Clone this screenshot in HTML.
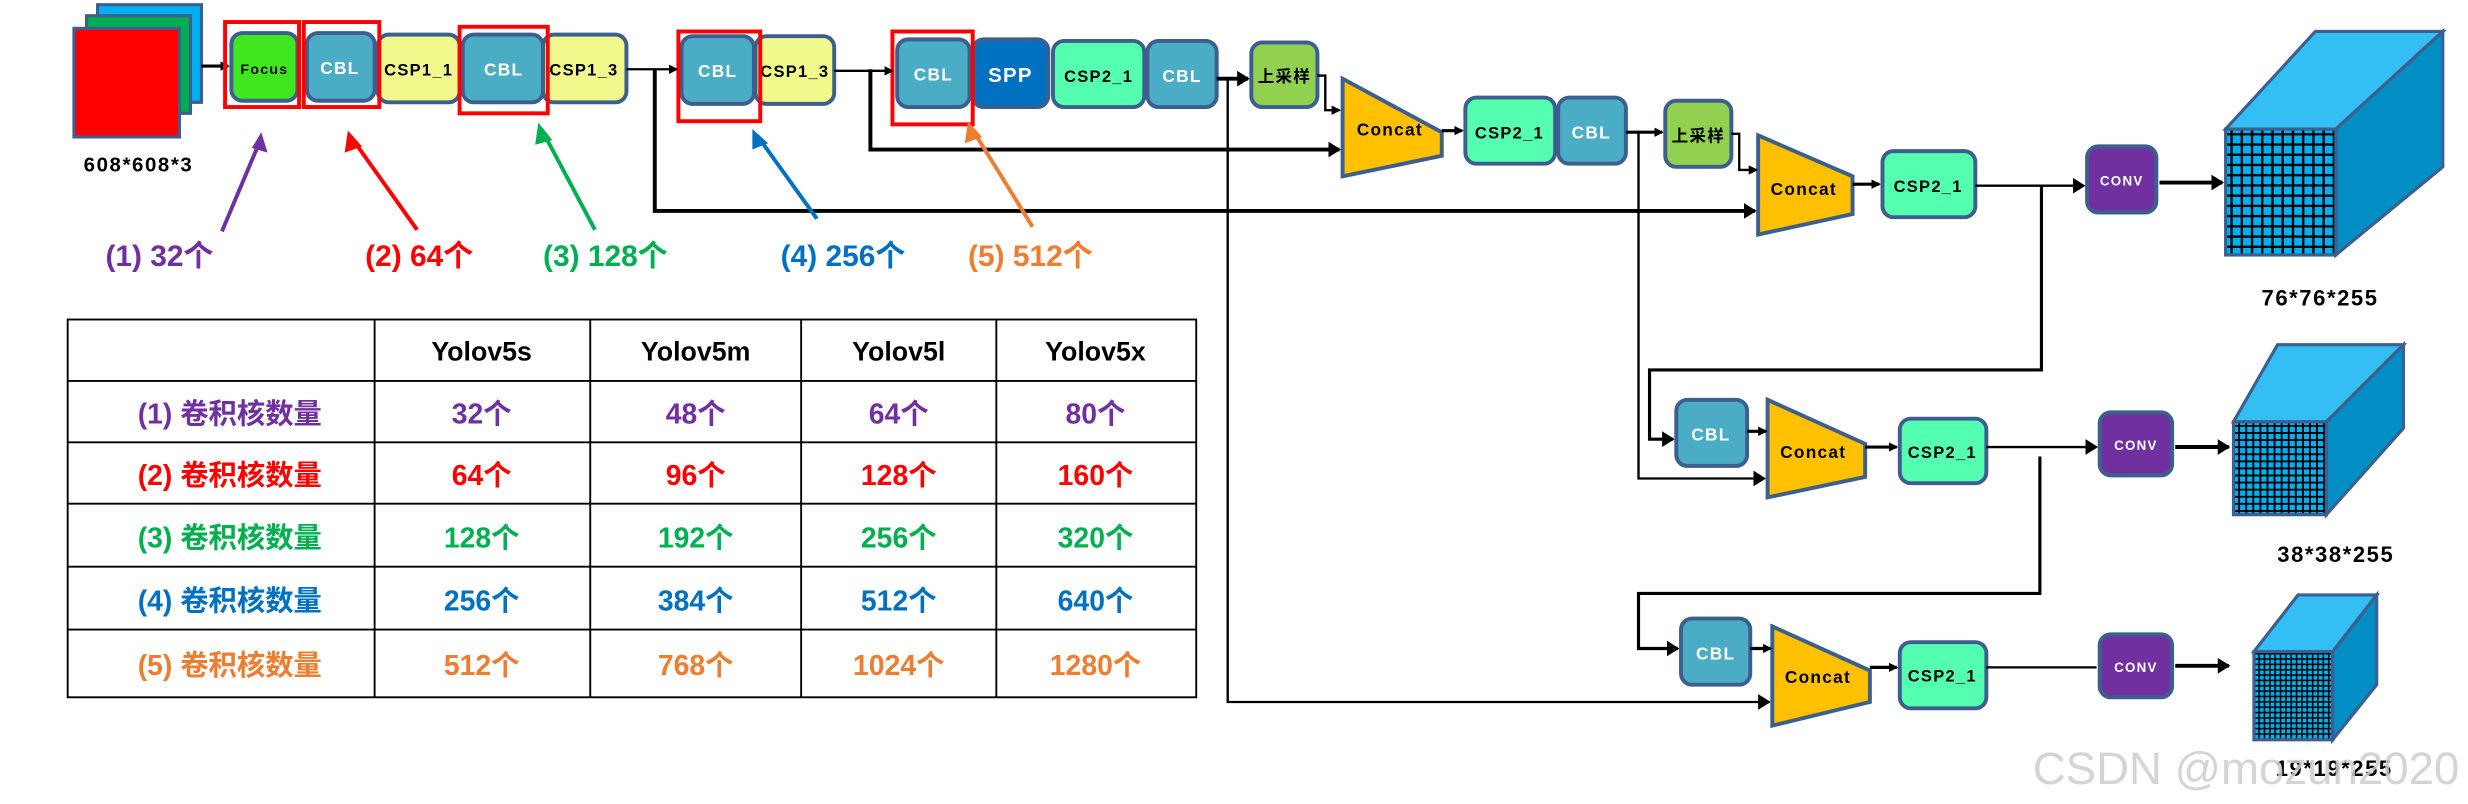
<!DOCTYPE html>
<html><head><meta charset="utf-8"><style>
html,body{margin:0;padding:0;background:#fff;}
svg{display:block;}
text{font-family:"Liberation Sans","Noto Sans CJK SC",sans-serif;font-weight:bold;}
</style></head><body>
<svg width="2468" height="804" viewBox="0 0 1568 510.8" preserveAspectRatio="none" xmlns="http://www.w3.org/2000/svg">
<defs>
<marker id="ah" markerWidth="6" markerHeight="6" refX="5" refY="3" orient="auto" markerUnits="userSpaceOnUse"><path d="M0,0 L6,3 L0,6 z" fill="#000"/></marker>
<marker id="ab" markerWidth="8" markerHeight="10" refX="7" refY="5" orient="auto" markerUnits="userSpaceOnUse"><path d="M0,0 L8,5 L0,10 z" fill="#000"/></marker>
<pattern id="g1" width="6.5" height="6.5" patternUnits="userSpaceOnUse"><rect width="6.5" height="6.5" fill="#00b0f0"/><path d="M0,0.8 H6.5 M0.8,0 V6.5" stroke="#000" stroke-width="1.5"/></pattern>
<pattern id="g2" width="4.5" height="4.5" patternUnits="userSpaceOnUse"><rect width="4.5" height="4.5" fill="#00b0f0"/><path d="M0,0.6 H4.5 M0.6,0 V4.5" stroke="#000" stroke-width="1.2"/></pattern>
<pattern id="g3" width="3.4" height="3.4" patternUnits="userSpaceOnUse"><rect width="3.4" height="3.4" fill="#00b0f0"/><path d="M0,0.5 H3.4 M0.5,0 V3.4" stroke="#000" stroke-width="1"/></pattern>
</defs>

<rect x="62" y="3" width="66" height="62" fill="#00b0f0" stroke="#3c5f8f" stroke-width="2"/>
<rect x="55" y="10" width="66" height="62" fill="#00b050" stroke="#3c5f8f" stroke-width="2"/>
<rect x="47" y="18" width="67" height="69" fill="#ff0000" stroke="#3c5f8f" stroke-width="2"/>
<text x="88" y="109" font-size="13" text-anchor="middle" letter-spacing="1">608*608*3</text>
<line x1="128" y1="42" x2="145" y2="42" stroke="#000" stroke-width="2" marker-end="url(#ah)"/>

<g stroke="#3c5f8f" stroke-width="2.5">
<rect x="147" y="21" width="42" height="43" rx="7" fill="#40e620"/>
<rect x="195" y="21" width="43" height="43" rx="7" fill="#4bacc6"/>
<rect x="240" y="22" width="52" height="43" rx="7" fill="#f2f98c"/>
<rect x="294" y="22" width="51" height="43" rx="7" fill="#4bacc6"/>
<rect x="345" y="22" width="53" height="43" rx="7" fill="#f2f98c"/>
<rect x="433" y="23" width="46" height="43" rx="7" fill="#4bacc6"/>
<rect x="480" y="23" width="50" height="43" rx="7" fill="#f2f98c"/>
<rect x="570" y="25" width="46" height="43" rx="7" fill="#4bacc6"/>
<rect x="618" y="25" width="48" height="43" rx="7" fill="#0070c0"/>
<rect x="669" y="26" width="58" height="42" rx="7" fill="#55ffb0"/>
<rect x="729" y="26" width="44" height="42" rx="7" fill="#4bacc6"/>
<rect x="795" y="27" width="42" height="41" rx="7" fill="#92d050"/>
<rect x="931" y="62" width="57" height="42" rx="7" fill="#55ffb0"/>
<rect x="990" y="62" width="43" height="42" rx="7" fill="#4bacc6"/>
<rect x="1058" y="64" width="42" height="42" rx="7" fill="#92d050"/>
<rect x="1196" y="96" width="59" height="42" rx="7" fill="#55ffb0"/>
<rect x="1326" y="93" width="44" height="42" rx="7" fill="#7030a0"/>
<rect x="1065" y="254" width="45" height="42" rx="7" fill="#4bacc6"/>
<rect x="1207" y="266" width="55" height="41" rx="7" fill="#55ffb0"/>
<rect x="1334" y="262" width="46" height="40" rx="7" fill="#7030a0"/>
<rect x="1068" y="393" width="44" height="42" rx="7" fill="#4bacc6"/>
<rect x="1207" y="408" width="55" height="42" rx="7" fill="#55ffb0"/>
<rect x="1334" y="403" width="46" height="40" rx="7" fill="#7030a0"/>
<polygon points="853,50 916,84 916,99 853,112" fill="#ffc000"/>
<polygon points="1117,86 1177,112 1177,136 1117,149" fill="#ffc000"/>
<polygon points="1123,254 1185,282 1185,303 1123,316" fill="#ffc000"/>
<polygon points="1126,398 1188,426 1188,446 1126,461" fill="#ffc000"/>
</g>

<g font-size="10.5" text-anchor="middle" letter-spacing="0.8">
<text x="168" y="47" font-size="9">Focus</text>
<text x="216" y="47" fill="#fff" font-size="11">CBL</text>
<text x="266" y="48">CSP1_1</text>
<text x="320" y="48" fill="#fff" font-size="11">CBL</text>
<text x="371" y="48">CSP1_3</text>
<text x="456" y="49" fill="#fff" font-size="11">CBL</text>
<text x="505" y="49">CSP1_3</text>
<text x="593" y="51" fill="#fff" font-size="11">CBL</text>
<text x="642" y="52" fill="#fff" font-size="13">SPP</text>
<text x="698" y="52">CSP2_1</text>
<text x="751" y="52" fill="#fff" font-size="11">CBL</text>
<text x="816" y="52">上采样</text>
<text x="883" y="86" font-size="11">Concat</text>
<text x="959" y="88">CSP2_1</text>
<text x="1011" y="88" fill="#fff" font-size="11">CBL</text>
<text x="1079" y="90">上采样</text>
<text x="1146" y="124" font-size="11">Concat</text>
<text x="1225" y="122">CSP2_1</text>
<text x="1348" y="118" fill="#fff" font-size="8.5">CONV</text>
<text x="1087" y="280" fill="#fff" font-size="11">CBL</text>
<text x="1152" y="291" font-size="11">Concat</text>
<text x="1234" y="291">CSP2_1</text>
<text x="1357" y="286" fill="#fff" font-size="8.5">CONV</text>
<text x="1090" y="419" fill="#fff" font-size="11">CBL</text>
<text x="1155" y="434" font-size="11">Concat</text>
<text x="1234" y="433">CSP2_1</text>
<text x="1357" y="427" fill="#fff" font-size="8.5">CONV</text>
</g>

<g fill="none" stroke="#ff0000" stroke-width="2.5">
<rect x="143" y="14" width="47" height="54"/>
<rect x="193" y="14" width="48" height="54"/>
<rect x="292" y="17" width="56" height="55"/>
<rect x="431" y="20" width="52" height="57"/>
<rect x="567" y="20" width="51" height="59"/>
</g>

<g stroke="#000" fill="none" stroke-width="1.5">
<line x1="398" y1="44" x2="430" y2="44" marker-end="url(#ah)"/>
<line x1="530" y1="45" x2="567" y2="45" marker-end="url(#ah)"/>
<line x1="773" y1="50" x2="793" y2="50" stroke-width="2.5" marker-end="url(#ab)"/>
<polyline points="837,48 842,48 842,70 851,70" marker-end="url(#ah)"/>
<line x1="916" y1="83" x2="929" y2="83" stroke-width="2" marker-end="url(#ah)"/>
<line x1="1033" y1="84" x2="1056" y2="84" stroke-width="2" marker-end="url(#ah)"/>
<polyline points="1100,85 1105,85 1105,108 1116,108" marker-end="url(#ah)"/>
<line x1="1177" y1="117" x2="1194" y2="117" stroke-width="2" marker-end="url(#ah)"/>
<line x1="1255" y1="118" x2="1324" y2="118" marker-end="url(#ab)"/>
<line x1="1372" y1="116" x2="1412" y2="116" stroke-width="2.5" marker-end="url(#ab)"/>
<polyline points="553,44 553,95 851,95" stroke-width="2.5" marker-end="url(#ab)"/>
<polyline points="416,44 416,134 1115,134" stroke-width="2.5" marker-end="url(#ab)"/>
<polyline points="780,50 780,446 1124,446" marker-end="url(#ab)"/>
<polyline points="1041,84 1041,304 1121,304" marker-end="url(#ab)"/>
<polyline points="1297,118 1297,235 1048,235 1048,279 1063,279" stroke-width="2" marker-end="url(#ab)"/>
<line x1="1110" y1="274" x2="1122" y2="274" stroke-width="2" marker-end="url(#ah)"/>
<line x1="1185" y1="284" x2="1205" y2="284" stroke-width="2" marker-end="url(#ah)"/>
<line x1="1262" y1="284" x2="1332" y2="284" marker-end="url(#ab)"/>
<line x1="1382" y1="284" x2="1416" y2="284" stroke-width="2.5" marker-end="url(#ab)"/>
<polyline points="1296,290 1296,377 1041,377 1041,412 1066,412" stroke-width="2" marker-end="url(#ab)"/>
<line x1="1112" y1="412" x2="1125" y2="412" stroke-width="2" marker-end="url(#ah)"/>
<line x1="1188" y1="424" x2="1205" y2="424" stroke-width="2" marker-end="url(#ah)"/>
<line x1="1262" y1="424" x2="1332" y2="424"/>
<line x1="1382" y1="423" x2="1416" y2="423" stroke-width="2.5" marker-end="url(#ab)"/>
</g>

<g stroke="#3c5f8f" stroke-width="2">
<polygon points="1414,82 1471,20 1552,20 1484,82" fill="#33bff3"/>
<polygon points="1484,82 1552,20 1552,106 1484,162" fill="#008ec4"/>
<rect x="1414" y="82" width="70" height="80" fill="url(#g1)"/>
<polygon points="1419,268 1447,219 1527,219 1478,268" fill="#33bff3"/>
<polygon points="1478,268 1527,219 1527,272 1478,327" fill="#008ec4"/>
<rect x="1419" y="268" width="59" height="59" fill="url(#g2)"/>
<polygon points="1432,414 1460,378 1510,378 1482,414" fill="#33bff3"/>
<polygon points="1482,414 1510,378 1510,435 1482,470" fill="#008ec4"/>
<rect x="1432" y="414" width="50" height="56" fill="url(#g3)"/>
</g>
<text x="1474" y="194" font-size="14" text-anchor="middle" letter-spacing="1">76*76*255</text>
<text x="1484" y="357" font-size="14" text-anchor="middle" letter-spacing="1">38*38*255</text>
<text x="1483" y="493" font-size="14" text-anchor="middle" letter-spacing="1">19*19*255</text>
<text x="1427" y="498" font-size="29" text-anchor="middle" fill="#ccc" fill-opacity="0.85" style="font-weight:normal">CSDN @mozun2020</text>

<g stroke-width="2.5" fill="none">
<line x1="141" y1="147" x2="165" y2="90" stroke="#7030a0"/>
<line x1="265" y1="146" x2="223" y2="87" stroke="#ff0000"/>
<line x1="378" y1="146" x2="344" y2="82" stroke="#00b050"/>
<line x1="519" y1="139" x2="481" y2="86" stroke="#0070c0"/>
<line x1="656" y1="144" x2="617" y2="81" stroke="#ed7d31"/>
</g>
<polygon points="166,84 170,97 160,94" fill="#7030a0"/>
<polygon points="221,83 230,93 219,97" fill="#ff0000"/>
<polygon points="342,78 351,89 340,92" fill="#00b050"/>
<polygon points="478,82 488,91 478,95" fill="#0070c0"/>
<polygon points="615,77 624,87 613,91" fill="#ed7d31"/>
<g font-size="19">
<text x="67" y="169" fill="#7030a0">(1) 32个</text>
<text x="232" y="169" fill="#ff0000">(2) 64个</text>
<text x="345" y="169" fill="#00b050">(3) 128个</text>
<text x="496" y="169" fill="#0070c0">(4) 256个</text>
<text x="615" y="169" fill="#ed7d31">(5) 512个</text>
</g>

<g stroke="#000" stroke-width="1.2">
<rect x="43" y="203" width="717" height="240" fill="none"/>
<line x1="43" y1="242" x2="760" y2="242"/>
<line x1="43" y1="281" x2="760" y2="281"/>
<line x1="43" y1="320" x2="760" y2="320"/>
<line x1="43" y1="360" x2="760" y2="360"/>
<line x1="43" y1="400" x2="760" y2="400"/>
<line x1="238" y1="203" x2="238" y2="443"/>
<line x1="375" y1="203" x2="375" y2="443"/>
<line x1="509" y1="203" x2="509" y2="443"/>
<line x1="633" y1="203" x2="633" y2="443"/>
</g>
<g font-size="17" text-anchor="middle">
<text x="306" y="229">Yolov5s</text>
<text x="442" y="229">Yolov5m</text>
<text x="571" y="229">Yolov5l</text>
<text x="696" y="229">Yolov5x</text>
</g>
<g font-size="18" text-anchor="middle">
<g fill="#7030a0"><text x="146" y="269">(1) 卷积核数量</text><text x="306" y="269">32个</text><text x="442" y="269">48个</text><text x="571" y="269">64个</text><text x="696" y="269">80个</text></g>
<g fill="#ff0000"><text x="146" y="308">(2) 卷积核数量</text><text x="306" y="308">64个</text><text x="442" y="308">96个</text><text x="571" y="308">128个</text><text x="696" y="308">160个</text></g>
<g fill="#00b050"><text x="146" y="348">(3) 卷积核数量</text><text x="306" y="348">128个</text><text x="442" y="348">192个</text><text x="571" y="348">256个</text><text x="696" y="348">320个</text></g>
<g fill="#0070c0"><text x="146" y="388">(4) 卷积核数量</text><text x="306" y="388">256个</text><text x="442" y="388">384个</text><text x="571" y="388">512个</text><text x="696" y="388">640个</text></g>
<g fill="#ed7d31"><text x="146" y="429">(5) 卷积核数量</text><text x="306" y="429">512个</text><text x="442" y="429">768个</text><text x="571" y="429">1024个</text><text x="696" y="429">1280个</text></g>
</g>
</svg>
</body></html>
